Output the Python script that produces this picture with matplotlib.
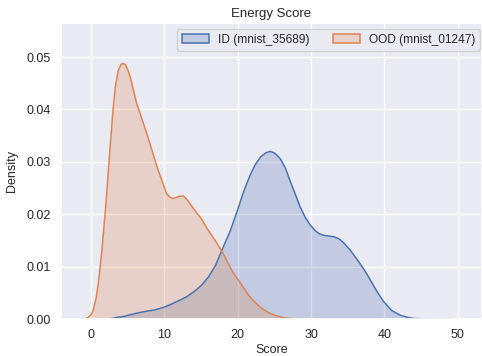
import matplotlib
matplotlib.use("Agg")
import matplotlib.pyplot as plt
import seaborn as sns

sns.set_theme(style="darkgrid")
plt.rcParams["font.family"] = ["Liberation Sans", "DejaVu Sans"]

# density curves (score, density)
id_label = "ID (mnist_35689)"
id_x = [2.6, 3.5, 4.5, 5.3, 6.5, 7.6, 8.6, 9.6, 10.4, 11.2, 12.1, 13.1, 14.2,
        15.1, 16.0, 17.0, 17.8, 19.0, 19.9, 20.8, 21.7, 22.4, 23.1, 23.8, 24.4,
        25.0, 25.8, 26.5, 27.1, 27.8, 28.5, 29.2, 29.9, 30.6, 31.2, 32.0, 33.1,
        33.8, 34.4, 35.3, 36.2, 37.2, 38.1, 39.0, 39.9, 41.0, 42.2, 43.2, 44.0,
        46.0, 48.9]
id_density = [0.0, 0.0003, 0.0005, 0.0008, 0.0012, 0.0015, 0.0017, 0.0021,
              0.0025, 0.0030, 0.0036, 0.0043, 0.0054, 0.0065, 0.0080, 0.0103,
              0.0130, 0.0169, 0.0205, 0.0243, 0.0275, 0.0295, 0.0309, 0.0317,
              0.0320, 0.0317, 0.0306, 0.0288, 0.0265, 0.0240, 0.0214, 0.0194,
              0.0179, 0.0168, 0.0162, 0.0159, 0.0157, 0.0153, 0.0146, 0.0132,
              0.0115, 0.0095, 0.0074, 0.0052, 0.0033, 0.0016, 0.0007, 0.0003,
              0.0001, 0.0, 0.0]

ood_label = "OOD (mnist_01247)"
ood_x = [-1.3, -0.6, 0.0, 0.3, 0.7, 1.0, 1.5, 2.0, 2.5, 3.0, 3.3, 3.7, 4.1,
         4.4, 4.7, 5.0, 5.4, 6.2, 7.6, 9.0, 10.3, 10.8, 11.2, 12.0, 12.6, 13.2,
         14.0, 15.0, 16.0, 17.0, 17.8, 18.7, 19.3, 20.1, 21.5, 22.4, 23.3,
         24.2, 25.1, 26.0, 26.9, 28.0]
ood_density = [0.0, 0.0001, 0.0008, 0.0017, 0.0040, 0.0068, 0.0135, 0.0215,
               0.0310, 0.0400, 0.0442, 0.0474, 0.0486, 0.0488, 0.0485, 0.0476,
               0.0459, 0.0412, 0.0354, 0.0290, 0.0239, 0.0232, 0.0230, 0.0234,
               0.0235, 0.0226, 0.0210, 0.0192, 0.0169, 0.0148, 0.0130, 0.0106,
               0.0090, 0.0074, 0.0045, 0.0031, 0.0020, 0.0012, 0.0007, 0.0003,
               0.0001, 0.0]

BLUE = "#4C72B0"
ORANGE = "#DD8452"

fig = plt.figure(figsize=(4.82, 3.56), dpi=100)
ax = fig.add_axes([61 / 482, 37 / 356, 421 / 482, 296 / 356])

for xs, ys, color, label in [
    (id_x, id_density, BLUE, id_label),
    (ood_x, ood_density, ORANGE, ood_label),
]:
    ax.fill_between(xs, ys, color=color, alpha=0.25, linewidth=0)
    ax.plot(xs, ys, color=color, linewidth=1.1)
    # legend proxy like seaborn's filled kde
    ax.fill_between([], [], facecolor=color, edgecolor=color, label=label)

handles, labels = ax.get_legend_handles_labels()
for h in handles:
    fc = h.get_facecolor()[0]
    h.set_facecolor((fc[0], fc[1], fc[2], 0.25))
    h.set_linewidth(1.1)

ax.set_xlim(-4.1, 53.3)
ax.set_ylim(0, 0.0565)
ax.set_xticks([0, 10, 20, 30, 40, 50])
ax.set_yticks([0.0, 0.01, 0.02, 0.03, 0.04, 0.05])
ax.set_yticklabels(["0.00", "0.01", "0.02", "0.03", "0.04", "0.05"])
ax.tick_params(axis="both", labelsize=9, pad=7.5, length=0)

ax.set_xlabel("Score", fontsize=9, labelpad=2)
ax.set_ylabel("Density", fontsize=9, labelpad=6)
ax.set_title("Energy Score", fontsize=9.5, pad=4.5)

ax.legend(handles, labels, loc="upper right", ncol=2, fontsize=8.6,
          bbox_to_anchor=(480 / 482, (356 - 29) / 356),
          bbox_transform=fig.transFigure, borderaxespad=0,
          handlelength=2.3, handletextpad=0.7, columnspacing=2.0)

fig.savefig("out.png", dpi=100)
